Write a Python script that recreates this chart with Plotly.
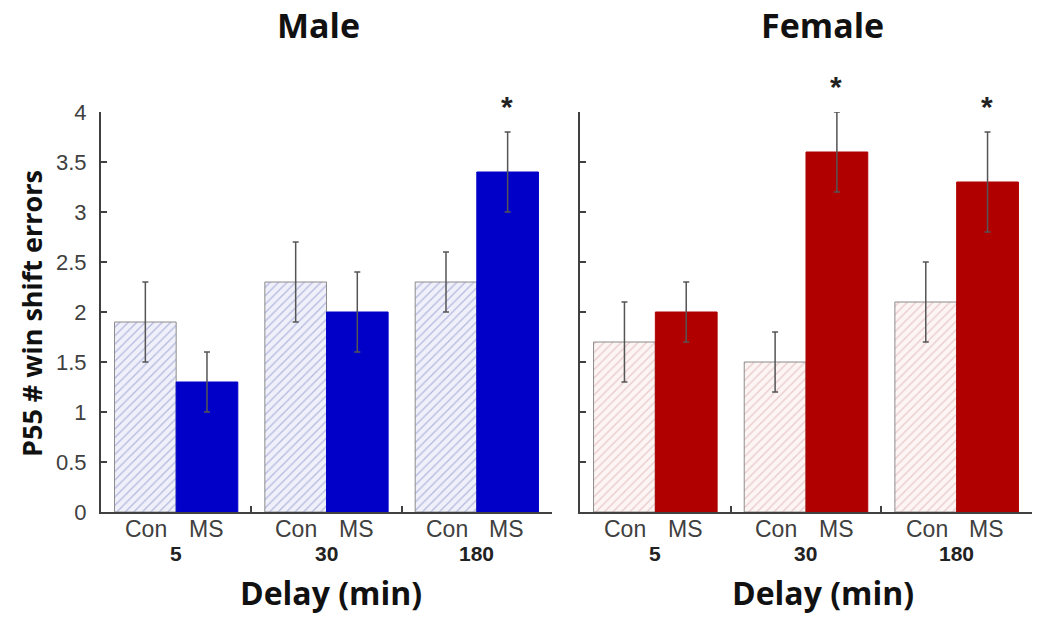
import plotly.graph_objects as go

delays = ["5", "30", "180"]
groups = ["Con", "MS"]
male_con = [1.9, 2.3, 2.3]
male_con_err = [0.4, 0.4, 0.3]
male_ms = [1.3, 2.0, 3.4]
male_ms_err = [0.3, 0.4, 0.4]
female_con = [1.7, 1.5, 2.1]
female_con_err = [0.4, 0.3, 0.4]
female_ms = [2.0, 3.6, 3.3]
female_ms_err = [0.3, 0.4, 0.5]
male_sig = [False, False, True]
female_sig = [False, True, True]
yticks = [0, 0.5, 1, 1.5, 2, 2.5, 3, 3.5, 4]
yticklabels = ["0", "0.5", "1", "1.5", "2", "2.5", "3", "3.5", "4"]

xidx = list(range(len(delays)))
ERR = dict(type="data", visible=True, color="#555555", thickness=1.5, width=3)
SANS = "Liberation Sans, Arial"
BOLD = "Open Sans"

fig = go.Figure()

def add_panel(con, con_err, ms, ms_err, xa, ya, hatch_fg, hatch_bg, solid):
    fig.add_trace(go.Bar(
        x=xidx, y=con, xaxis=xa, yaxis=ya, name="Con",
        error_y=dict(array=con_err, **ERR),
        marker=dict(color=hatch_bg,
                    pattern=dict(shape="/", fgcolor=hatch_fg, bgcolor=hatch_bg, size=6, solidity=0.22),
                    line=dict(color="#8c8c8c", width=1)),
        showlegend=False, cliponaxis=False))
    fig.add_trace(go.Bar(
        x=xidx, y=ms, xaxis=xa, yaxis=ya, name="MS",
        error_y=dict(array=ms_err, **ERR),
        marker=dict(color=solid, line=dict(color=solid, width=1)),
        showlegend=False, cliponaxis=False))

add_panel(male_con, male_con_err, male_ms, male_ms_err, "x", "y",
          "#7a82c4", "#f0f0fa", "#0000c8")
add_panel(female_con, female_con_err, female_ms, female_ms_err, "x2", "y2",
          "#d6a0a0", "#fdf4f4", "#b00000")

axis_common = dict(range=[-0.5, 2.5], showgrid=False, zeroline=False,
                   showline=True, linecolor="#404040", linewidth=2,
                   tickmode="array", tickvals=[0.5, 1.5, 2.5], ticktext=["", "", ""],
                   ticks="inside", ticklen=6, tickcolor="#404040", tickwidth=1.5)
yaxis_common = dict(range=[0, 4], showgrid=False, zeroline=False,
                    showline=True, linecolor="#404040", linewidth=2,
                    tickmode="array", tickvals=yticks, ticktext=yticklabels,
                    ticks="inside", ticklen=6, tickcolor="#404040", tickwidth=1.5,
                    ticklabelstandoff=8,
                    tickfont=dict(family=SANS, size=22, color="#404040"))

fig.update_layout(
    width=1050, height=619,
    margin=dict(l=101, r=18, t=112, b=107),
    paper_bgcolor="white", plot_bgcolor="white",
    barmode="group", bargap=0.18, bargroupgap=0,
    xaxis=dict(domain=[0, 0.4844], anchor="y", **axis_common),
    xaxis2=dict(domain=[0.5145, 1], anchor="y2", **axis_common),
    yaxis=dict(anchor="x", **yaxis_common),
    yaxis2=dict(anchor="x2", **{**yaxis_common, "ticktext": [""] * len(yticks)}),
)

ann = []
off = 0.2
for xa, ya, sig, ms, ms_err in [("x", "y", male_sig, male_ms, male_ms_err),
                                  ("x2", "y2", female_sig, female_ms, female_ms_err)]:
    for i, d in enumerate(delays):
        for j, g in enumerate(groups):
            ann.append(dict(x=i + (-off if j == 0 else off), y=0, xref=xa, yref=ya,
                            text=g, showarrow=False, xanchor="center", yanchor="middle", yshift=-17,
                            font=dict(family=SANS, size=23, color="#404040")))
        ann.append(dict(x=i, y=0, xref=xa, yref=ya, text="<b>" + d + "</b>",
                        showarrow=False, xanchor="center", yanchor="middle", yshift=-41,
                        font=dict(family=SANS, size=21, color="#222222")))
        if sig[i]:
            ann.append(dict(x=i + off, y=ms[i] + ms_err[i], xref=xa, yref=ya, text="<b>*</b>",
                            showarrow=False, xanchor="center", yanchor="middle", yshift=26,
                            font=dict(family=SANS, size=30, color="#222222")))

title_font = dict(family=BOLD, size=34, color="#111111")
label_font = dict(family=BOLD, size=32, color="#111111")
ann += [
    dict(x=0.234, y=1, xref="paper", yref="paper", text="<b>Male</b>", showarrow=False,
         xanchor="center", yanchor="middle", yshift=87, font=title_font),
    dict(x=0.7755, y=1, xref="paper", yref="paper", text="<b>Female</b>", showarrow=False,
         xanchor="center", yanchor="middle", yshift=87, font=title_font),
    dict(x=0.247, y=0, xref="paper", yref="paper", text="<b>Delay (min)</b>", showarrow=False,
         xanchor="center", yanchor="middle", yshift=-80, font=label_font),
    dict(x=0.775, y=0, xref="paper", yref="paper", text="<b>Delay (min)</b>", showarrow=False,
         xanchor="center", yanchor="middle", yshift=-80, font=label_font),
    dict(x=0, y=0.5, xref="paper", yref="paper", text="<b>P55 # win shift errors</b>", showarrow=False,
         textangle=-90, xanchor="center", yanchor="middle", xshift=-70, yshift=-2,
         font=dict(family=BOLD, size=27, color="#111111")),
]
fig.update_layout(annotations=ann)

fig.write_html("out.html", config={"displayModeBar": False},
               post_script="document.body.style.margin='0';")
